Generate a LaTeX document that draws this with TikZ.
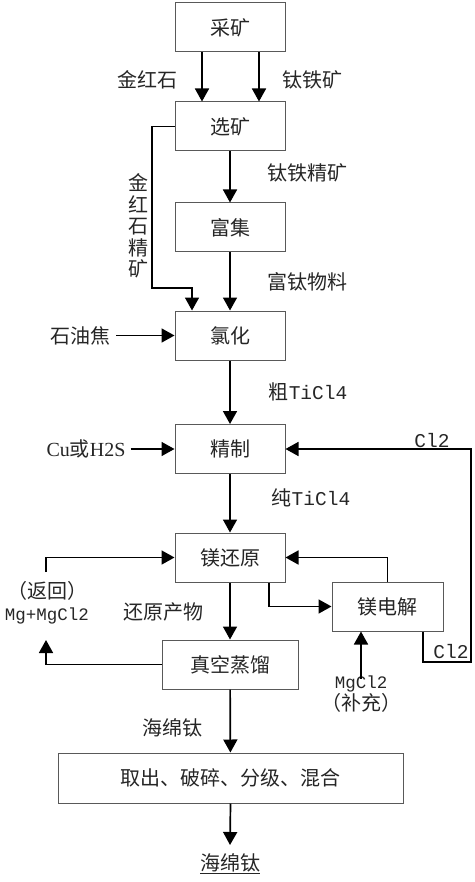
\documentclass[tikz,border=0pt]{standalone}
\usepackage{fontspec}
\setmainfont{Noto Sans CJK SC}
\newfontfamily\lat{Liberation Mono}
\newfontfamily\latser{Liberation Serif}
\usetikzlibrary{arrows.meta}
\newcommand{\latbig}{\lat\fontsize{19.5}{22}\selectfont}
\newcommand{\latsm}{\lat\fontsize{17.5}{21}\selectfont}
\tikzset{
  box/.style={draw=black!65, line width=1pt, minimum width=110pt, minimum height=49pt, inner sep=0pt, fill=white, font=\fontsize{20}{22}\selectfont, text=black!85},
  lbl/.style={inner sep=0pt, font=\fontsize{20}{22}\selectfont, text=black!85},
  arr/.style={line width=1.7pt, -{Triangle[width=14pt,length=13pt]}},
  ln/.style={line width=1.7pt}
}
\begin{document}
\begin{tikzpicture}[x=1pt,y=-1pt]
\useasboundingbox (0,0) rectangle (474,882);
% boxes
\node[box] (cai) at (230,27.5) {采矿};
\node[box] (xuan) at (230,126.5) {选矿};
\node[box] (fuji) at (230,227.5) {富集};
\node[box] (lvhua) at (230,335.5) {氯化};
\node[box] (jingzhi) at (230,449) {精制};
\node[box] (mghy) at (230,557.5) {镁还原};
\node[box, minimum width=111pt] (mgdj) at (387.5,606.5) {镁电解};
\node[box, minimum width=136pt] (zk) at (230,664.5) {真空蒸馏};
\node[box, minimum width=345pt, minimum height=50pt] (quchu) at (230.5,778) {取出、破碎、分级、混合};
\node[lbl] (final) at (230,864) {\underline{海绵钛}};
% labels
\node[lbl] (l1) at (147,80) {金红石};
\node[lbl] (l2) at (312,80) {钛铁矿};
\node[lbl] (l3) at (307,173) {钛铁精矿};
\node[lbl, align=center, font=\fontsize{20}{21.6}\selectfont] (l4) at (138,226) {金\\红\\石\\精\\矿};
\node[lbl] (l5) at (307,282) {富钛物料};
\node[lbl] (l6) at (308,392) {粗{\latbig TiCl4}};
\node[lbl] (l7) at (311,498) {纯{\latbig TiCl4}};
\node[lbl] (l8) at (163,612) {还原产物};
\node[lbl] (l9) at (172,728) {海绵钛};
\node[lbl, font=\latbig] (l10) at (432,441) {Cl2};
\node[lbl, font=\latbig] (l11) at (451,652) {Cl2};
% inputs
\node[lbl] (shi) at (80,335.5) {石油焦};
\node[lbl] (cu) at (86,449) {{\latser Cu}或{\latser H2S}};
\node[lbl, align=center] (ret) at (47,603) {（返回）\\{\latsm Mg+MgCl2}};
\node[lbl, align=center] (sup) at (361,694) {{\latsm MgCl2}\\（补充）};
\coordinate (k1) at (152,288);
\coordinate (c1) at (471,662);
\coordinate (r1) at (46,640);
\coordinate (r2) at (46,572);
\coordinate (f1) at (230,845);
% connectors
\draw[arr] ([xshift=-28pt]cai.south) -- ([xshift=-28pt]xuan.north);
\draw[arr] ([xshift=29pt]cai.south) -- ([xshift=29pt]xuan.north);
\draw[arr] (xuan) -- (fuji);
\draw[arr] (xuan.west) -| (k1) -| ([xshift=-38pt]lvhua.north);
\draw[arr] (fuji) -- (lvhua);
\draw[arr] (shi.east) ++(6pt,0) -- (lvhua.west);
\draw[arr] (lvhua) -- (jingzhi);
\draw[arr] (cu.east) ++(5pt,0) -- (jingzhi.west);
\draw[arr] ([xshift=35.5pt]mgdj.south) |- (c1) |- (jingzhi.east);
\draw[arr] (jingzhi) -- (mghy);
\draw[arr] (mghy) -- (zk);
\draw[arr] ([xshift=39pt]mghy.south) |- (mgdj.west);
\draw[arr] (mgdj.north) |- (mghy.east);
\draw[arr] (zk.west) -| (r1);
\draw[arr] (r2) |- (mghy.west);
\draw[arr] (sup.north) ++(0,-3pt) -- (sup.north |- mgdj.south);
\draw[arr] (zk) -- (quchu);
\draw[arr] (quchu.south) -- (f1);
\end{tikzpicture}
\end{document}
